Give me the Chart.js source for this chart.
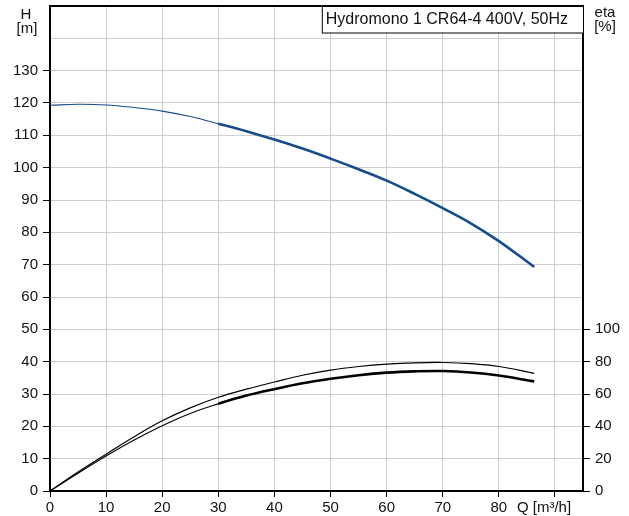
<!DOCTYPE html>
<html>
<head>
<meta charset="utf-8">
<script src="https://cdn.jsdelivr.net/npm/chart.js@4"></script>
<style>
  html, body { margin: 0; padding: 0; background: #fff; }
  #wrap { width: 629px; height: 516px; position: relative; }
</style>
</head>
<body>
<div id="wrap"><canvas id="chart"></canvas></div>
<script>
// pump curve
const FLOW_Q   = [0, 5, 10, 15, 20, 25, 30, 35, 40, 45, 50, 55, 60, 65, 70, 75, 80, 86.3];
const HEAD_H   = [119.3, 119.6, 119.4, 118.6, 117.5, 115.8, 113.6, 111.3, 108.7, 105.9, 102.8, 99.5, 96.0, 91.9, 87.5, 82.8, 77.3, 69.3];
const ETA_PUMP = [0, 11.8, 22.8, 33.6, 43.4, 51.4, 58.0, 63.0, 67.4, 71.6, 74.8, 77.0, 78.5, 79.3, 79.5, 78.8, 77.0, 72.8];
const ETA_TOT  = [0, 11.0, 21.6, 31.5, 40.4, 48.0, 53.9, 59.0, 63.0, 66.6, 69.4, 71.6, 73.2, 74.0, 74.2, 73.3, 71.4, 67.8];

const Q_TICKS   = [0, 10, 20, 30, 40, 50, 60, 70, 80, 90];
const H_TICKS   = [0, 10, 20, 30, 40, 50, 60, 70, 80, 90, 100, 110, 120, 130, 140, 150];
const ETA_TICKS = [0, 20, 40, 60, 80, 100];

const TITLE = 'Hydromono 1 CR64-4 400V, 50Hz';
const FONT = "'Liberation Sans', Arial, sans-serif";
const DUTY_START = 30;   // curves drawn thick from here on

const pts = ys => FLOW_Q.map((q, i) => ({ x: q, y: ys[i] }));
const dutyWidth = ctx => ctx.p0.parsed.x >= DUTY_START ? 2.6 : 1.1;
const noPad = s => { s.paddingTop = 0; s.paddingBottom = 0; s.paddingLeft = 0; s.paddingRight = 0; };

const frame = {
  id: 'frame',
  afterDraw(chart) {
    const { ctx, chartArea: a } = chart;
    ctx.save();
    // top border
    ctx.strokeStyle = '#000';
    ctx.lineWidth = 2;
    ctx.beginPath();
    ctx.moveTo(a.left - 1, a.top);
    ctx.lineTo(a.right + 1, a.top);
    ctx.stroke();
    // title box
    ctx.font = '16px ' + FONT;
    const w = ctx.measureText(TITLE).width;
    const bx = a.right - w - 19;
    ctx.fillStyle = '#fff';
    ctx.fillRect(bx, a.top, a.right - bx, 27);
    ctx.lineWidth = 1;
    ctx.strokeRect(bx + 0.5, a.top + 0.5, a.right - bx, 26.5);
    ctx.fillStyle = '#111';
    ctx.textBaseline = 'middle';
    ctx.textAlign = 'left';
    ctx.fillText(TITLE, bx + 4, a.top + 13.5);
    // axis titles
    ctx.font = '15px ' + FONT;
    ctx.textAlign = 'center';
    ctx.fillText('H', 26, 15);
    ctx.fillText('[m]', 27, 29);
    ctx.fillText('eta', 605, 13);
    ctx.fillText('[%]', 605, 27);
    ctx.fillText('Q [m³/h]', 544, 508);
    ctx.restore();
  }
};

new Chart(document.getElementById('chart'), {
  type: 'line',
  data: {
    datasets: [
      {
        label: 'H', data: pts(HEAD_H), yAxisID: 'y',
        borderColor: '#174c8c', borderWidth: 1.1, pointRadius: 0,
        tension: 0.4, segment: { borderWidth: dutyWidth }
      },
      {
        label: 'eta', data: pts(ETA_PUMP), yAxisID: 'y2',
        borderColor: '#000', borderWidth: 1.2, pointRadius: 0,
        tension: 0.4
      },
      {
        label: 'eta tot', data: pts(ETA_TOT), yAxisID: 'y2',
        borderColor: '#000', borderWidth: 1.1, pointRadius: 0,
        tension: 0.4, segment: { borderWidth: dutyWidth }
      }
    ]
  },
  options: {
    responsive: true,
    maintainAspectRatio: false,
    animation: false,
    layout: { padding: { top: 6, left: 0, right: 0, bottom: 0 } },
    plugins: { legend: { display: false }, tooltip: { enabled: false } },
    scales: {
      x: {
        type: 'linear', min: 0, max: 95,
        afterBuildTicks: s => { s.ticks = Q_TICKS.map(v => ({ value: v })); },
        afterFit: s => { s.height = 25; noPad(s); },
        grid: { color: '#cfcfcf', lineWidth: 1, tickLength: 6, tickColor: '#000' },
        border: { color: '#000', width: 2 },
        ticks: {
          color: '#111', padding: 2, maxRotation: 0, font: { family: FONT, size: 15 },
          callback: v => v <= 80 ? v : ''
        }
      },
      y: {
        position: 'left', min: 0, max: 150,
        afterBuildTicks: s => { s.ticks = H_TICKS.map(v => ({ value: v })); },
        afterFit: s => { s.width = 50; noPad(s); },
        grid: {
          color: '#cfcfcf', lineWidth: 1, tickLength: 7,
          tickColor: c => c.tick && c.tick.value <= 130 ? '#000' : 'rgba(0,0,0,0)'
        },
        border: { color: '#000', width: 2 },
        ticks: {
          color: '#111', padding: 5, font: { family: FONT, size: 15 },
          callback: v => v <= 130 ? v : ''
        }
      },
      y2: {
        position: 'right', min: 0, max: 300,
        afterBuildTicks: s => { s.ticks = ETA_TICKS.map(v => ({ value: v })); },
        afterFit: s => { s.width = 46; noPad(s); },
        grid: { drawOnChartArea: false, tickLength: 7, tickColor: '#000' },
        border: { color: '#000', width: 2 },
        ticks: { color: '#111', padding: 5, font: { family: FONT, size: 15 } }
      }
    }
  },
  plugins: [frame]
});
</script>
</body>
</html>
